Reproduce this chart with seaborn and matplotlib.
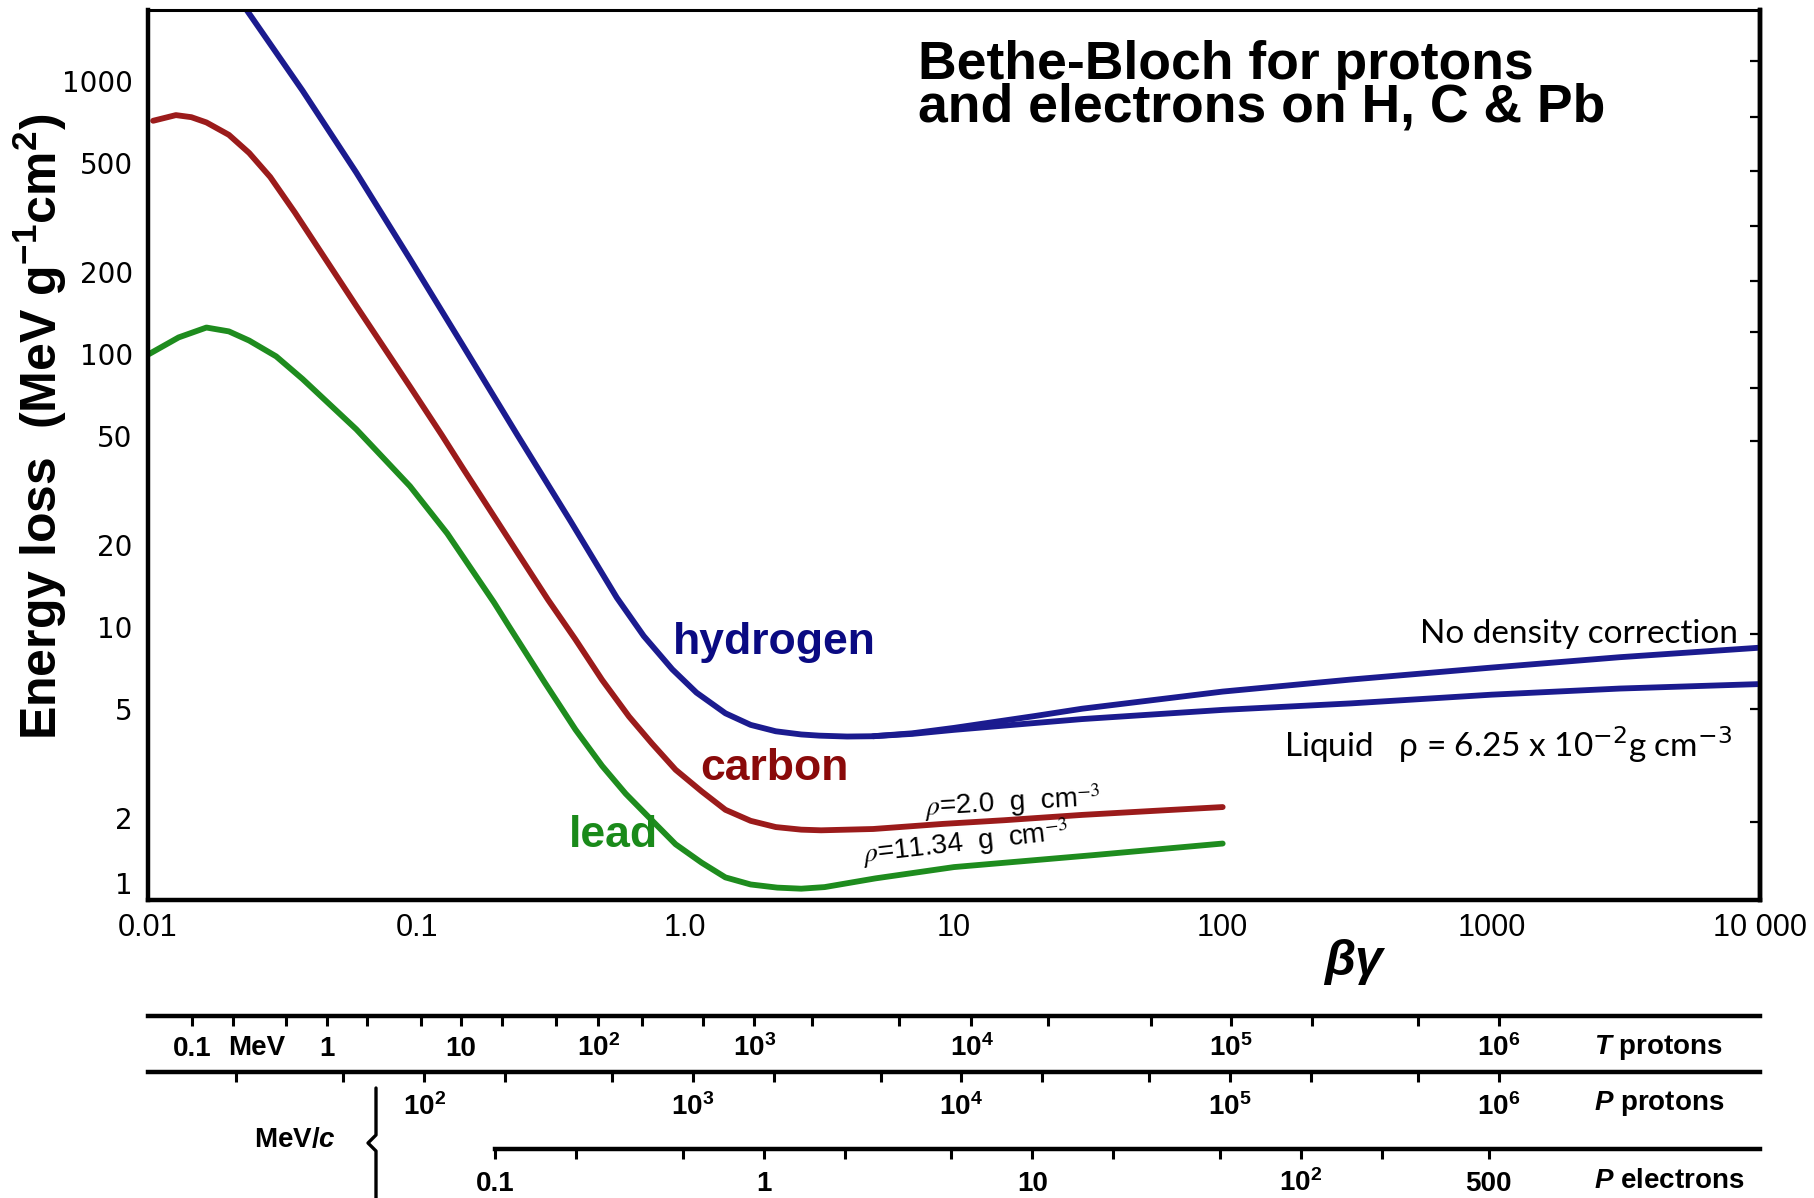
import numpy as np
import pandas as pd
import matplotlib
matplotlib.use("Agg")
import matplotlib.pyplot as plt
import matplotlib.ticker as mticker
from matplotlib import font_manager
from matplotlib.lines import Line2D
import seaborn as sns

# energy loss curves: beta*gamma vs dE/dx (MeV g^-1 cm^2)
h_bg = [0.0232, 0.0376, 0.0596, 0.0944, 0.149, 0.237, 0.375, 0.556, 0.7, 0.894, 1.1,
        1.41, 1.75, 2.17, 2.7, 3.15, 4.0, 5.0, 7.0, 10, 20, 30, 100, 300, 1000, 3000, 10000]
h_dedx = [1830, 922, 462, 223, 107, 50.5, 24.3, 12.8, 9.27, 7.0, 5.75,
          4.83, 4.38, 4.15, 4.04, 4.0, 3.97, 3.98, 4.08, 4.27, 4.72, 5.02, 5.8, 6.42, 7.1, 7.75, 8.4]
# liquid hydrogen branch (with density correction)
hl_bg = [5.0, 7.0, 10, 20, 30, 100, 300, 1000, 3000, 10000]
hl_dedx = [3.98, 4.06, 4.2, 4.45, 4.6, 4.97, 5.25, 5.65, 5.95, 6.18]

c_bg = [0.01045, 0.0127, 0.0145, 0.0165, 0.02, 0.0238, 0.0285, 0.0352, 0.0596, 0.0944,
        0.124, 0.149, 0.22, 0.308, 0.39, 0.49, 0.617, 0.75, 0.92, 1.15, 1.41, 1.75, 2.17,
        2.7, 3.2, 5.0, 9.1, 15.4, 30, 60, 100]
c_dedx = [715, 750, 737, 705, 635, 545, 445, 330, 150, 76, 50.5, 38, 21, 12.6, 9.0, 6.4,
          4.7, 3.75, 3.0, 2.5, 2.14, 1.95, 1.85, 1.81, 1.80, 1.82, 1.90, 1.96, 2.05, 2.13, 2.19]

l_bg = [0.0101, 0.013, 0.0165, 0.02, 0.0238, 0.03, 0.0376, 0.0596, 0.0944, 0.13, 0.194,
        0.22, 0.3, 0.39, 0.49, 0.6, 0.75, 0.92, 1.15, 1.41, 1.75, 2.2, 2.7, 3.3, 5.1, 10,
        33, 100]
l_dedx = [100, 115, 125, 121, 112, 98, 81, 53, 32.8, 22, 12.3, 10.1, 6.25, 4.21, 3.1,
          2.45, 1.96, 1.6, 1.37, 1.21, 1.14, 1.11, 1.10, 1.115, 1.20, 1.32, 1.46, 1.61]

x_ticks = [0.01, 0.1, 1, 10, 100, 1000, 10000]
x_labels = ["0.01", "0.1", "1.0", "10", "100", "1000", "10 000"]
y_ticks = [1, 2, 5, 10, 20, 50, 100, 200, 500, 1000]
y_labels = ["1", "2", "5", "10", "20", "50", "100", "200", "500", "1000"]
right_ticks = [1180, 740, 470, 295, 185, 120, 75, 48, 9.4, 5, 1.93]

# extra scales under the plot
M_P = 938.27
M_E = 0.511
t_major = [0.1, 1, 10, 1e2, 1e3, 1e4, 1e5, 1e6]
t_labels = ["0.1", "1", "10", r"$\mathbf{10}^{\mathbf{2}}$", r"$\mathbf{10}^{\mathbf{3}}$",
            r"$\mathbf{10}^{\mathbf{4}}$", r"$\mathbf{10}^{\mathbf{5}}$", r"$\mathbf{10}^{\mathbf{6}}$"]
t_minor = [0.2, 0.5, 2, 5, 20, 50, 200, 500, 2e3, 5e3, 2e4, 5e4, 2e5, 5e5]
p_major = [1e2, 1e3, 1e4, 1e5, 1e6]
p_labels = [r"$\mathbf{10}^{\mathbf{2}}$", r"$\mathbf{10}^{\mathbf{3}}$", r"$\mathbf{10}^{\mathbf{4}}$",
            r"$\mathbf{10}^{\mathbf{5}}$", r"$\mathbf{10}^{\mathbf{6}}$"]
p_minor = [20, 50, 200, 500, 2e3, 5e3, 2e4, 5e4, 2e5, 5e5]
e_major = [0.1, 1, 10, 100, 500]
e_labels = ["0.1", "1", "10", r"$\mathbf{10}^{\mathbf{2}}$", "500"]
e_minor = [0.2, 0.5, 2, 5, 20, 50, 200]

sns.set_style("white")
avail = {f.name for f in font_manager.fontManager.ttflist}
narrow = "Liberation Sans Narrow" if "Liberation Sans Narrow" in avail else "Liberation Sans"
plt.rcParams["font.family"] = ["Liberation Sans", "DejaVu Sans"]
plt.rcParams.update({
    "mathtext.fontset": "custom",
    "mathtext.rm": "Liberation Sans",
    "mathtext.bf": "Liberation Sans:bold",
    "mathtext.it": "Liberation Sans:italic",
    "mathtext.bfit": "Liberation Sans:italic:bold",
    "axes.edgecolor": "black", "text.color": "black", "axes.labelcolor": "black",
    "xtick.color": "black", "ytick.color": "black",
})

fig = plt.figure(figsize=(18.14, 11.98), dpi=100)
ax = fig.add_axes([148 / 1814, 1 - 900 / 1198, 1612 / 1814, 890 / 1198])
ax.set_xscale("log")
ax.set_yscale("log")

parts = []
for name, bg, de in [("hydrogen", h_bg, h_dedx), ("hydrogen liquid", hl_bg, hl_dedx),
                     ("carbon", c_bg, c_dedx), ("lead", l_bg, l_dedx)]:
    parts.append(pd.DataFrame({"bg": bg, "dedx": de, "curve": name}))
curves = pd.concat(parts, ignore_index=True)
pal = {"hydrogen": "#1b1b8f", "hydrogen liquid": "#1b1b8f", "carbon": "#9b1b1b", "lead": "#1e8c1e"}
sns.lineplot(data=curves, x="bg", y="dedx", hue="curve", palette=pal, estimator=None,
             sort=False, linewidth=4.2, legend=False, ax=ax)

ax.set_xlim(0.01, 10000)
ax.set_ylim(1, 1820)
ax.xaxis.set_major_locator(mticker.FixedLocator(x_ticks))
ax.xaxis.set_major_formatter(mticker.FixedFormatter(x_labels))
ax.xaxis.set_minor_locator(mticker.LogLocator(base=10, subs=np.arange(2, 10)))
ax.xaxis.set_minor_formatter(mticker.NullFormatter())
ax.yaxis.set_major_locator(mticker.FixedLocator(y_ticks))
ax.yaxis.set_major_formatter(mticker.FixedFormatter(y_labels))
ax.yaxis.set_minor_locator(mticker.NullLocator())
ax.tick_params(axis="x", which="major", direction="in", length=12, width=1.6,
               labelsize=22, pad=9, labelfontfamily=narrow)
ax.tick_params(axis="x", which="minor", direction="in", length=4, width=1.0)
ax.tick_params(axis="y", which="major", direction="in", length=12, width=1.6,
               labelsize=20, pad=11, labelfontfamily="DejaVu Sans")
for side in ["left", "bottom", "right"]:
    ax.spines[side].set_linewidth(3.2)
ax.spines["top"].set_linewidth(2.2)
# the "1" label sits just above the bottom spine in the original
for lbl in ax.get_yticklabels():
    if lbl.get_text() == "1":
        lbl.set_va("bottom")

secy = ax.secondary_yaxis("right")
secy.set_ticks(right_ticks, labels=[""] * len(right_ticks))
secy.yaxis.set_minor_locator(mticker.NullLocator())
secy.tick_params(direction="in", length=7, width=1.6)
secy.spines["right"].set_linewidth(3.2)

ax.set_ylabel(r"Energy loss  (MeV g$^{\mathbf{-1}}$cm$^{\mathbf{2}}$)", fontsize=36, fontweight="bold")
ax.yaxis.set_label_coords(-0.049, 0.532)
ax.set_xlabel("βγ", fontsize=36, fontweight="bold", style="italic")
ax.xaxis.set_label_coords(0.748, -0.0438)

ax.text(0.4777, 0.9663, "Bethe-Bloch for protons\nand electrons on H, C & Pb", transform=ax.transAxes,
        ha="left", va="top", fontsize=38.5, fontweight="bold", linespacing=0.82)
ax.text(0.902, 8.81, "hydrogen", color="#0a0a82", fontsize=32, fontweight="bold", ha="left", va="center")
ax.text(1.137, 3.02, "carbon", color="#8a0a0a", fontsize=32, fontweight="bold", ha="left", va="center")
ax.text(0.37, 1.73, "lead", color="#1a8a1a", fontsize=32, fontweight="bold", ha="left", va="center")
ax.text(16.5, 2.27, r"$\rho$=2.0  g  cm$^{-3}$", fontsize=20, math_fontfamily="stix",
        rotation=3.3, rotation_mode="anchor", ha="center", va="center")
ax.text(11.0, 1.62, r"$\rho$=11.34  g  cm$^{-3}$", fontsize=20, math_fontfamily="stix",
        rotation=6.5, rotation_mode="anchor", ha="center", va="center")
hand = ["Lato", "DejaVu Sans"]
ax.text(8260, 8.74, "No density correction", ha="right", va="baseline", fontsize=24,
        family=hand, fontweight="normal", color="black")
ax.text(7850, 3.34, r"Liquid   ρ = 6.25 x 10$^{-2}$g cm$^{-3}$", ha="right", va="baseline",
        fontsize=24, family=hand, fontweight="normal", color="black", math_fontfamily="dejavusans")


def t_fwd(bg):
    return M_P * (np.sqrt(1 + np.asarray(bg, dtype=float) ** 2) - 1)


def t_inv(t):
    return np.sqrt((np.asarray(t, dtype=float) / M_P + 1) ** 2 - 1)


def p_fwd(bg):
    return M_P * np.asarray(bg, dtype=float)


def p_inv(p):
    return np.asarray(p, dtype=float) / M_P


def e_fwd(bg):
    return M_E * np.asarray(bg, dtype=float)


def e_inv(p):
    return np.asarray(p, dtype=float) / M_E


scales = [(-0.1303, (t_fwd, t_inv), t_major, t_labels, t_minor, 22),
          (-0.1938, (p_fwd, p_inv), p_major, p_labels, p_minor, 23.5),
          (-0.2798, (e_fwd, e_inv), e_major, e_labels, e_minor, 23.5)]
sec_axes = []
for loc, funcs, major, labels, minor, pad in scales:
    sec = ax.secondary_xaxis(loc, functions=funcs)
    sec.tick_params(which="both", direction="out", length=7, width=2.2)
    sec.tick_params(which="major", pad=pad)
    sec.set_ticks(major, labels=labels, fontsize=20, fontweight="bold", va="baseline")
    sec.xaxis.set_minor_locator(mticker.FixedLocator(minor))
    sec.xaxis.set_minor_formatter(mticker.NullFormatter())
    sec.spines["bottom"].set_linewidth(3.2)
    sec_axes.append(sec)
sec_axes[2].spines["bottom"].set_bounds(0.1, e_fwd(10000))

fig.text(257 / 1814, 1 - 1048 / 1198, "MeV", fontsize=20, fontweight="bold", ha="center", va="center")
fig.text(1594 / 1814, 1 - 1047 / 1198, r"$\mathbfit{T}$ protons", fontsize=20, fontweight="bold", va="center")
fig.text(1594 / 1814, 1 - 1103 / 1198, r"$\mathbfit{P}$ protons", fontsize=20, fontweight="bold", va="center")
fig.text(1594 / 1814, 1 - 1181 / 1198, r"$\mathbfit{P}$ electrons", fontsize=20, fontweight="bold", va="center")
fig.text(295 / 1814, 1 - 1140 / 1198, r"MeV/$\mathbfit{c}$", fontsize=20, fontweight="bold", ha="center", va="center")
bx = [376 / 1814, 376 / 1814, 368 / 1814, 376 / 1814, 376 / 1814]
by = [1 - 1088 / 1198, 1 - 1135 / 1198, 1 - 1143 / 1198, 1 - 1151 / 1198, 0.0]
fig.add_artist(Line2D(bx, by, transform=fig.transFigure, color="black", lw=2.4))

fig.savefig("out.png", dpi=100)
